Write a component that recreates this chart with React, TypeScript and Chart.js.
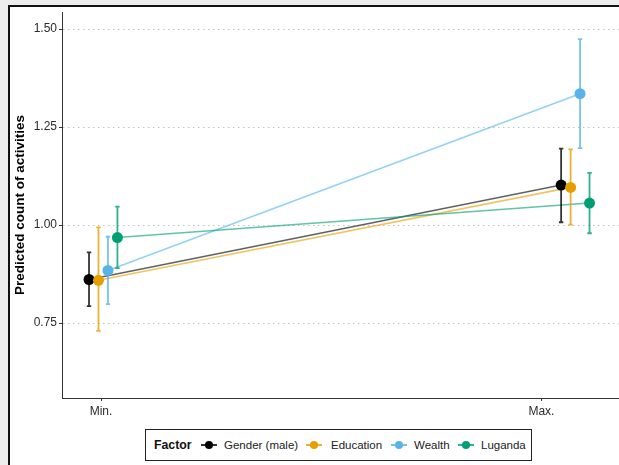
import React, { useEffect, useRef } from "react";
import { Chart, registerables } from "chart.js";

Chart.register(...registerables);

// ---- data ----
const categories = ["Min.", "Max."];
const factors = ["Gender (male)", "Education", "Wealth", "Luganda"];
const colors = ["#000000", "#E69F00", "#56B4E9", "#009E73"];

const genderEst = [0.861, 1.102];
const genderLow = [0.793, 1.007];
const genderHigh = [0.93, 1.195];

const educationEst = [0.859, 1.096];
const educationLow = [0.73, 1.001];
const educationHigh = [0.994, 1.193];

const wealthEst = [0.884, 1.335];
const wealthLow = [0.798, 1.196];
const wealthHigh = [0.97, 1.474];

const lugandaEst = [0.968, 1.056];
const lugandaLow = [0.89, 0.979];
const lugandaHigh = [1.047, 1.133];

const yTicks = [0.75, 1.0, 1.25, 1.5];

// category positions on the x axis (ticks at 1 and 2), group centres and dodge
const tickPositions = [1, 2];
const groupCentres = [1.005, 2.077];
const dodgeStep = 0.0215;

const estimates = [genderEst, educationEst, wealthEst, lugandaEst];
const lows = [genderLow, educationLow, wealthLow, lugandaLow];
const highs = [genderHigh, educationHigh, wealthHigh, lugandaHigh];

const FONT = '"Liberation Sans", Arial, Helvetica, sans-serif';
const CANVAS_W = 631;

function rgba(hex: string, a: number) {
  const n = parseInt(hex.slice(1), 16);
  return `rgba(${(n >> 16) & 255},${(n >> 8) & 255},${n & 255},${a})`;
}

function xOf(factorIdx: number, catIdx: number) {
  return groupCentres[catIdx] + (factorIdx - 1.5) * dodgeStep;
}

const errorBarPlugin = {
  id: "errorBars",
  beforeDatasetDraw(chart: any, args: any) {
    if (args.index !== factors.length) return; // just before first point dataset drawn
    const ctx = chart.ctx;
    const xs = chart.scales.x;
    const ys = chart.scales.y;
    ctx.save();
    factors.forEach((_, fi) => {
      ctx.strokeStyle = rgba(colors[fi], 0.8);
      ctx.lineWidth = 1.8;
      categories.forEach((__, ci) => {
        const px = xs.getPixelForValue(xOf(fi, ci));
        const y1 = ys.getPixelForValue(lows[fi][ci]);
        const y2 = ys.getPixelForValue(highs[fi][ci]);
        ctx.beginPath();
        ctx.moveTo(px, y1);
        ctx.lineTo(px, y2);
        ctx.moveTo(px - 2.2, y1);
        ctx.lineTo(px + 2.2, y1);
        ctx.moveTo(px - 2.2, y2);
        ctx.lineTo(px + 2.2, y2);
        ctx.stroke();
      });
    });
    ctx.restore();
  },
};

function Glyph({ color }: { color: string }) {
  return (
    <svg width="16" height="10" style={{ display: "block" }}>
      <line x1="0" y1="5" x2="16" y2="5" stroke={color} strokeWidth="1.6" />
      <circle cx="8" cy="5" r="4" fill={color} />
    </svg>
  );
}

export default function App() {
  const ref = useRef<HTMLCanvasElement | null>(null);

  useEffect(() => {
    if (!ref.current) return;
    Chart.defaults.font.family = FONT;

    const lineSets = factors.map((f, fi) => ({
      label: f,
      data: categories.map((_, ci) => ({ x: xOf(fi, ci), y: estimates[fi][ci] })),
      showLine: true,
      borderColor: rgba(colors[fi], 0.62),
      borderWidth: 1.6,
      pointRadius: 0,
      order: 13 - fi,
    }));
    const pointSets = factors.map((f, fi) => ({
      label: f + " points",
      data: categories.map((_, ci) => ({ x: xOf(fi, ci), y: estimates[fi][ci] })),
      showLine: false,
      backgroundColor: colors[fi],
      borderWidth: 0,
      pointRadius: 5.5,
      pointBorderWidth: 0,
      order: 3 - fi,
    }));

    const chart = new Chart(ref.current, {
      type: "scatter",
      data: { datasets: [...lineSets, ...pointSets] as any },
      options: {
        responsive: false,
        animation: false,
        layout: { padding: { top: 12, right: 0, bottom: 0, left: 0 } },
        plugins: { legend: { display: false }, tooltip: { enabled: false } },
        scales: {
          x: {
            type: "linear",
            min: 0.9114,
            max: 2.1909,
            afterBuildTicks: (s: any) => {
              s.ticks = tickPositions.map((v) => ({ value: v }));
            },
            afterFit: (s: any) => {
              s.height = 67;
            },
            ticks: {
              callback: (_v: any, i: number) => categories[i],
              color: "#2b2b2b",
              font: { size: 12, family: FONT },
              padding: 3,
              maxRotation: 0,
              autoSkip: false,
            },
            grid: { drawOnChartArea: false, drawTicks: true, tickLength: 3, tickColor: "#333", tickWidth: 1 },
            border: { display: true, color: "#333", width: 1 },
          },
          y: {
            type: "linear",
            min: 0.5587,
            max: 1.5434,
            afterBuildTicks: (s: any) => {
              s.ticks = yTicks.map((v) => ({ value: v }));
            },
            afterFit: (s: any) => {
              s.width = 62;
            },
            ticks: {
              callback: (v: any) => Number(v).toFixed(2),
              color: "#2b2b2b",
              font: { size: 12, family: FONT },
              padding: 2,
            },
            grid: {
              color: "#c2c2c2",
              lineWidth: 1,
              drawTicks: true,
              tickLength: 3,
              tickColor: "#333",
              tickWidth: 1,
              tickBorderDash: [],
            },
            border: { display: true, color: "#333", width: 1, dash: [1.5, 3.5] },
            title: {
              display: true,
              text: "Predicted count of activities",
              color: "#000",
              font: { size: 13.5, weight: "bold", family: FONT },
              padding: { top: 12, bottom: 0 },
            },
          },
        },
      } as any,
      plugins: [errorBarPlugin],
    });
    return () => chart.destroy();
  }, []);

  const legendItems = [
    { glyph: 55, text: 78 },
    { glyph: 160, text: 185 },
    { glyph: 245, text: 268 },
    { glyph: 312, text: 335 },
  ];

  return (
    <div
      style={{
        position: "fixed",
        left: 0,
        top: 0,
        width: 619,
        height: 465,
        background: "#ededed",
        overflow: "hidden",
        fontFamily: FONT,
      }}
    >
      <div
        style={{
          position: "absolute",
          left: 8,
          top: 5,
          width: 700,
          height: 600,
          background: "#ffffff",
          borderLeft: "2px solid #111",
          borderTop: "2px solid #111",
        }}
      />
      <canvas
        ref={ref}
        width={CANVAS_W}
        height={465}
        style={{ position: "absolute", left: 0, top: 0, width: CANVAS_W, height: 465, display: "block" }}
      />
      <div
        style={{
          position: "absolute",
          left: 145,
          top: 429,
          width: 385,
          height: 30,
          border: "1px solid #222",
          background: "#fff",
          color: "#222",
          fontSize: "11.5px",
        }}
      >
        <span
          style={{
            position: "absolute",
            left: 8,
            top: 0,
            lineHeight: "30px",
            fontWeight: "bold",
            fontSize: "12.3px",
            color: "#111",
          }}
        >
          Factor
        </span>
        {factors.map((f, i) => (
          <React.Fragment key={f}>
            <div style={{ position: "absolute", left: legendItems[i].glyph, top: 10 }}>
              <Glyph color={colors[i]} />
            </div>
            <span style={{ position: "absolute", left: legendItems[i].text, top: 0, lineHeight: "30px" }}>{f}</span>
          </React.Fragment>
        ))}
      </div>
    </div>
  );
}
